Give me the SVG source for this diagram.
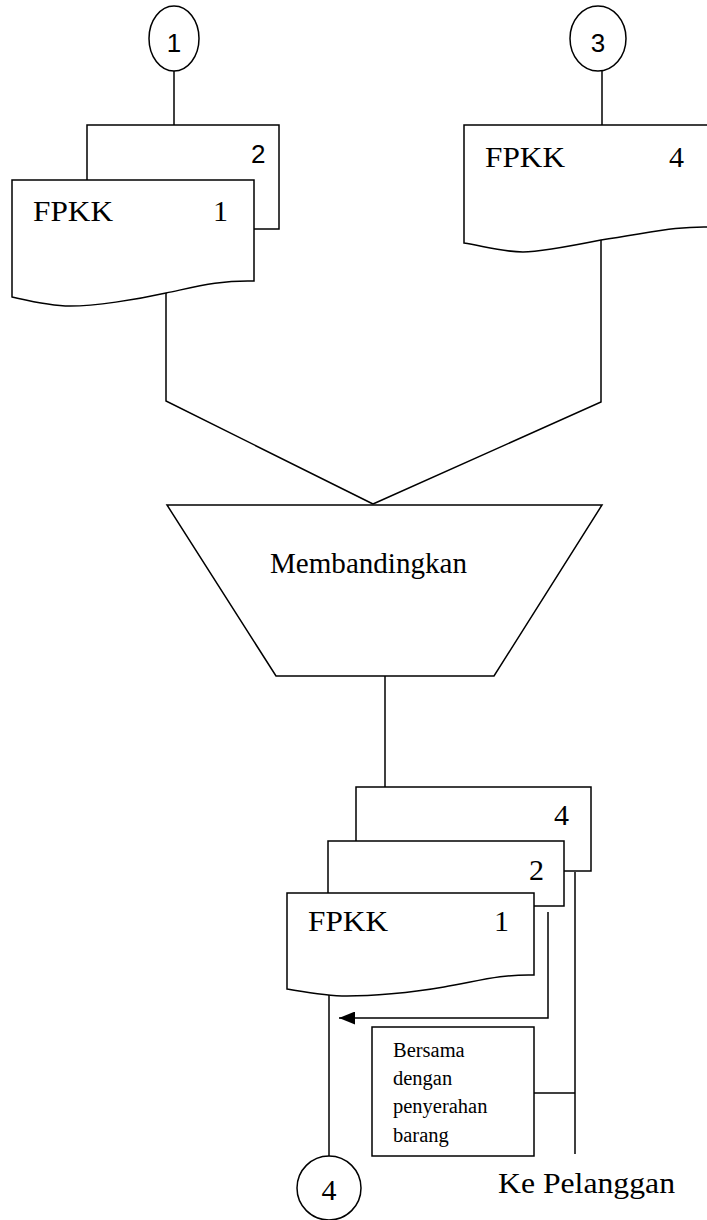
<svg xmlns="http://www.w3.org/2000/svg" width="707" height="1220" viewBox="0 0 707 1220">
<style>
.s{fill:none;stroke:#000;stroke-width:1.5}
.w{fill:#fff;stroke:#000;stroke-width:1.5}
.t{font-family:"Liberation Serif","Times New Roman",serif;font-size:30px;fill:#000}
.n{font-family:"Liberation Sans",Arial,sans-serif;font-size:26px;fill:#000}
.b{font-family:"Liberation Serif","Times New Roman",serif;font-size:20.5px;fill:#000}
</style>
<defs>
<marker id="ah" markerWidth="16" markerHeight="13" refX="16" refY="6.5" orient="auto" markerUnits="userSpaceOnUse">
<path d="M0,0 L16,6.5 L0,13 Z" fill="#000"/>
</marker>
</defs>
<g id="connectors">
<path class="s" d="M174,71 V125"/>
<path class="s" d="M602,71 V125"/>
<path class="s" d="M166,293 V401 L373,504"/>
<path class="s" d="M601,240 V402 L373,504"/>
<path class="s" d="M385,676 V787"/>
<path class="s" d="M548,912 V1018 H339" marker-end="url(#ah)"/>
<path class="s" d="M575,872 V1154"/>
<path class="s" d="M534,1093 H575"/>
<path class="s" d="M329,994 V1156"/>
</g>
<g id="conn1">
<ellipse class="w" cx="174" cy="38.5" rx="25" ry="32.5"/>
<text class="n" x="174" y="52" text-anchor="middle">1</text>
</g>
<g id="conn3">
<ellipse class="w" cx="598" cy="38.5" rx="28" ry="32.5"/>
<text class="n" x="598" y="52" text-anchor="middle">3</text>
</g>
<g id="doc-fpkk2-top">
<rect class="w" x="87" y="125" width="192" height="104"/>
<text class="n" x="251" y="163">2</text>
</g>
<g id="doc-fpkk1-top">
<path class="w" d="M12,180 H254 V281 C220,280 195,287 166,293 C135,300 95,306 70,306 C50,306 30,301 12,297 Z"/>
<text class="t" x="33" y="221" textLength="80" lengthAdjust="spacingAndGlyphs">FPKK</text>
<text class="t" x="213" y="221">1</text>
</g>
<g id="doc-fpkk4-top">
<path class="w" d="M464,125 H710 V227 C676,226 650,233 601,240 C571,246 540,252 523,252 C503,252 483,246 464,243 Z"/>
<text class="t" x="485" y="167" textLength="80" lengthAdjust="spacingAndGlyphs">FPKK</text>
<text class="t" x="669" y="167">4</text>
</g>
<g id="membandingkan">
<path class="w" d="M167,505 H602 L494,676 H276 Z"/>
<text class="t" x="270" y="573" textLength="197" lengthAdjust="spacingAndGlyphs">Membandingkan</text>
</g>
<g id="doc-4">
<rect class="w" x="356" y="787" width="235" height="84"/>
<text class="t" x="554" y="825">4</text>
</g>
<g id="doc-2">
<rect class="w" x="328" y="841" width="236" height="65"/>
<text class="t" x="529" y="880">2</text>
</g>
<g id="doc-1">
<path class="w" d="M287,893 H534 V975 C500,974 475,982 444,987 C410,993 370,996 347,996 C325,996 305,992 287,989 Z"/>
<text class="t" x="308" y="931" textLength="80" lengthAdjust="spacingAndGlyphs">FPKK</text>
<text class="t" x="494" y="931">1</text>
</g>
<g id="note">
<rect class="w" x="372" y="1027" width="162" height="129"/>
<text class="b" x="393" y="1057">Bersama</text>
<text class="b" x="393" y="1085">dengan</text>
<text class="b" x="393" y="1113">penyerahan</text>
<text class="b" x="393" y="1142">barang</text>
</g>
<g id="conn4">
<circle class="w" cx="329" cy="1188" r="32"/>
<text class="t" x="329" y="1200" text-anchor="middle">4</text>
</g>
<g id="ke-pelanggan">
<text class="t" x="498" y="1193" textLength="177" lengthAdjust="spacingAndGlyphs">Ke Pelanggan</text>
</g>
</svg>
